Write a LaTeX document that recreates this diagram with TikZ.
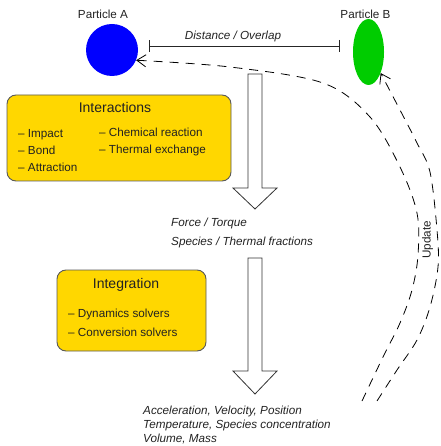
\documentclass[tikz,border=0pt]{standalone}
\usepackage{fontspec}
\setmainfont{Liberation Sans}
\usetikzlibrary{shapes.geometric,arrows.meta}
\definecolor{gold}{HTML}{FFD700}
\definecolor{txt}{HTML}{222222}
\definecolor{pgreen}{HTML}{00CC00}
\definecolor{pblue}{HTML}{0000FF}
\begin{document}
\begin{tikzpicture}[x=1pt,y=-1pt,
  lbl/.style={text=txt, font=\fontsize{11.7}{14}\selectfont, inner sep=0pt},
  txtshift/.style={yshift=-1.5pt},
  ital/.style={text=txt, font=\fontsize{11.7}{14}\selectfont\itshape, inner sep=0pt, anchor=mid west, txtshift},
  item/.style={lbl, anchor=mid west, txtshift},
  paneltitle/.style={text=txt, font=\fontsize{14}{16}\selectfont, inner sep=0pt, anchor=mid, txtshift},
  panel/.style={draw=black!65, line width=0.9pt, fill=gold, rounded corners=9pt, inner sep=0pt},
  flow/.style={draw=black!80, line width=0.8pt, fill=white, line join=miter},
  feedback/.style={draw=black, line width=0.8pt, dash pattern=on 9pt off 7pt, -{Straight Barb[length=9pt,width=12pt]}},
]
\useasboundingbox (0,0) rectangle (440,446);

% particles
\node[circle, fill=pblue, minimum size=52pt, inner sep=0pt] (A) at (112,50) {};
\node[ellipse, fill=pgreen, minimum width=31pt, minimum height=66pt, inner sep=0pt] (B) at (368.5,52) {};
\node[lbl, anchor=mid, txtshift] (la) at (103,14) {Particle A};
\node[lbl, anchor=mid, txtshift] (lb) at (365.5,14) {Particle B};

% distance
\coordinate (d1) at (149,46);
\coordinate (d2) at (340,46);
\draw[black!85, line width=0.9pt, {Bar[width=12pt]}-{Bar[width=12pt]}] (d1) -- (d2);
\node[ital, anchor=mid] (dl) at (233,35) {Distance / Overlap};

% interactions panel
\node[panel, minimum width=224pt, minimum height=86pt] (inter) at (119,138) {};
\node[paneltitle] (intt) at (115,108) {Interactions};
\node[item] (i1) at (18,133) {– Impact};
\node[item] (i2) at (18,150) {– Bond};
\node[item] (i3) at (18,167) {– Attraction};
\node[item] (i4) at (99,132) {– Chemical reaction};
\node[item] (i5) at (99,149) {– Thermal exchange};

% integration panel
\node[panel, minimum width=149pt, minimum height=81pt] (integ) at (131.5,310.5) {};
\node[paneltitle] (integt) at (126,284) {Integration};
\node[item] (g1) at (68,313) {– Dynamics solvers};
\node[item] (g2) at (68,332) {– Conversion solvers};

% hollow arrows
\draw[flow] (248,74) -- (262,74) -- (262,188) -- (277,188) -- (255,209) -- (233,188) -- (248,188) -- cycle;
\draw[flow] (248,258) -- (262,258) -- (262,371) -- (277,371) -- (255,394) -- (233,371) -- (248,371) -- cycle;

% intermediate texts
\node[ital] (f1) at (171,222) {Force / Torque};
\node[ital] (f2) at (171,241) {Species / Thermal fractions};
\node[ital] (r1) at (143,410) {Acceleration, Velocity, Position};
\node[ital] (r2) at (143,424) {Temperature, Species concentration};
\node[ital] (r3) at (143,438) {Volume, Mass};

% feedback curves
\coordinate (u1) at (362,401);
\coordinate (u2) at (377,401);
\draw[feedback] plot[smooth, tension=0.55] coordinates {(u1) (383,357) (400,323) (412,290) (418,255) (417,213) (400,167) (370,117) (323,83) (230,67) (A.-23)};
\draw[feedback] plot[smooth, tension=0.55] coordinates {(u2) (397,370) (417,340) (430,307) (438,267) (437,230) (430,172) (417,143) (400,110) (B.-60)};
\node[lbl, rotate=90, anchor=mid] (upd) at (428,240) {Update};
\end{tikzpicture}
\end{document}
